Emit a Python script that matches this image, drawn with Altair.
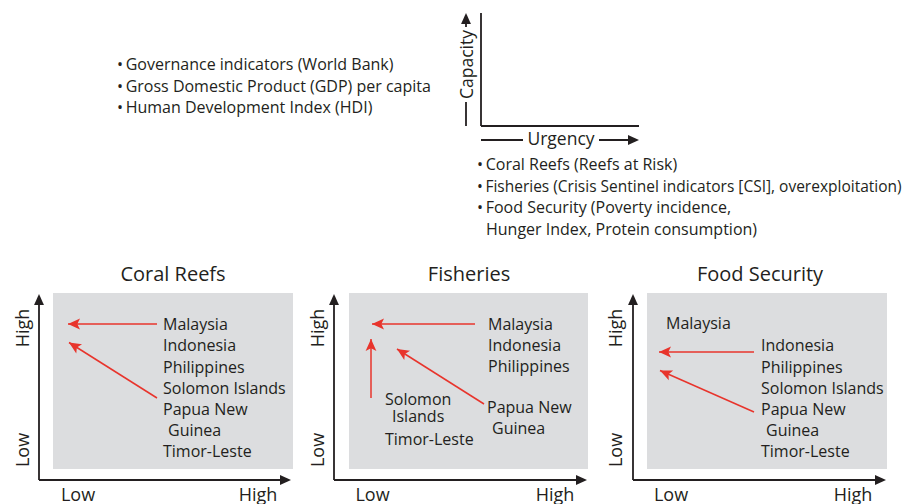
import altair as alt
import pandas as pd
import math

FONT = "Open Sans"
INK = "#231f20"
RED = "#e8342c"
GRAY = "#dcdddf"

# ---- top bullets ----
capacity_indicators = ["Governance indicators (World Bank)",
                       "Gross Domestic Product (GDP) per capita",
                       "Human Development Index (HDI)"]
cap_ind_x = 117
cap_ind_y = [70, 91.5, 113]

urgency_indicators = ["Coral Reefs (Reefs at Risk)",
                      "Fisheries (Crisis Sentinel indicators [CSI], overexploitation)",
                      "Food Security (Poverty incidence,"]
urgency_sizes = [16, 15.5, 16]
urgency_cont = "Hunger Index, Protein consumption)"
urg_ind_x = 477
urg_ind_y = [170, 191.5, 213, 234.5]

# ---- key diagram ----
key_origin = (481, 126)
key_top = 13
key_right = 639

# ---- panels ----
panel_titles = ["Coral Reefs", "Fisheries", "Food Security"]
title_x = [173, 469, 760]
title_y = 281
axis_x = [39, 334, 633]
axis_y = 480
axis_tip_y = 294
axis_tip_x = [291, 587, 886]
box_x0 = [53, 349, 647]
box_x1 = [293, 588, 887]
box_y0, box_y1 = 293, 469
low_x = [78, 372.5, 671]
high_x = [258, 555, 853]
xlab_y = 501
ylab_x = [28.5, 323.5, 622]
ylab_high_y = 328
ylab_low_y = 450

coral_names = ["Malaysia", "Indonesia", "Philippines", "Solomon Islands",
               "Papua New", "Guinea", "Timor-Leste"]
coral_x = [163, 163, 163, 163, 163, 168, 163]
coral_y = [330, 351, 372.5, 394, 415, 436, 457]

fish_names = ["Malaysia", "Indonesia", "Philippines", "Solomon", "Islands",
              "Timor-Leste", "Papua New", "Guinea"]
fish_x = [488, 488, 488, 385, 392, 385, 487, 492]
fish_y = [330, 351, 372, 405, 422, 445, 413, 434]

food_names = ["Malaysia", "Indonesia", "Philippines", "Solomon Islands",
              "Papua New", "Guinea", "Timor-Leste"]
food_x = [666, 761, 761, 761, 761, 766, 761]
food_y = [329, 351, 372.5, 394, 415, 436, 457]

# red arrows: start -> tip
arrow_from_x = [157, 157, 475, 371, 484, 754, 754]
arrow_from_y = [324, 398, 324, 398, 404, 352, 412]
arrow_to_x = [68, 69, 372, 371, 397, 659, 660]
arrow_to_y = [324, 342.5, 324, 339, 349, 352, 370.5]

# ---------------- build tables ----------------
def ang(x0, y0, x1, y1):
    a = math.degrees(math.atan2(x1 - x0, -(y1 - y0)))
    return a % 360

boxes = pd.DataFrame({"x": box_x0, "x2": box_x1,
                      "y": [box_y0] * 3, "y2": [box_y1] * 3})

black_segs = []
black_heads = []
for i in range(3):
    black_segs.append((axis_x[i], axis_y, axis_x[i], axis_tip_y + 6))
    black_segs.append((axis_x[i], axis_y, axis_tip_x[i] - 6, axis_y))
    black_heads.append((axis_x[i], axis_tip_y, 0))
    black_heads.append((axis_tip_x[i], axis_y, 90))
ox, oy = key_origin
black_segs += [(ox, key_top, ox, oy), (ox, oy, key_right, oy),
               (ox, 140, 523, 140), (599, 140, key_right - 6, 140),
               (466, 126, 466, 102), (466, 27, 466, key_top + 6)]
black_heads += [(key_right, 140, 90), (466, key_top, 0)]

bseg = pd.DataFrame(black_segs, columns=["x", "y", "x2", "y2"])
bhead = pd.DataFrame(black_heads, columns=["x", "y", "angle"])

rseg = pd.DataFrame({"x": arrow_from_x, "y": arrow_from_y,
                     "x2": arrow_to_x, "y2": arrow_to_y})
rhead = pd.DataFrame({"x": arrow_to_x, "y": arrow_to_y,
                      "angle": [ang(a, b, c, d) for a, b, c, d in
                                zip(arrow_from_x, arrow_from_y, arrow_to_x, arrow_to_y)]})

left_rows = []
for t, y in zip(capacity_indicators, cap_ind_y):
    left_rows.append(("\u2022\u2009" + t, cap_ind_x, y, 16))
for t, y, s in zip(urgency_indicators, urg_ind_y[:3], urgency_sizes):
    left_rows.append(("\u2022\u2009" + t, urg_ind_x, y, s))
left_rows.append((urgency_cont, urg_ind_x + 9, urg_ind_y[3], 16))
for names, xs_, ys_ in [(coral_names, coral_x, coral_y),
                        (fish_names, fish_x, fish_y),
                        (food_names, food_x, food_y)]:
    for t, x, y in zip(names, xs_, ys_):
        left_rows.append((t, x, y, 16))
left = pd.DataFrame(left_rows, columns=["text", "x", "y", "size"])

center_rows = []
for i in range(3):
    center_rows.append((panel_titles[i], title_x[i], title_y, 20, 0))
    center_rows.append(("Low", low_x[i], xlab_y, 18, 0))
    center_rows.append(("High", high_x[i], xlab_y, 18, 0))
    center_rows.append(("High", ylab_x[i], ylab_high_y, 18, 270))
    center_rows.append(("Low", ylab_x[i], ylab_low_y, 18, 270))
center_rows.append(("Urgency", 561, 144.5, 17.5, 0))
center_rows.append(("Capacity", 472.5, 64.5, 17.5, 270))
center = pd.DataFrame(center_rows, columns=["text", "x", "y", "size", "angle"])

xs = alt.Scale(domain=[8, 911], nice=False, zero=False)
ys = alt.Scale(domain=[8, 504], nice=False, zero=False, reverse=True)
X = lambda f="x": alt.X(f + ":Q", scale=xs, axis=None)
Y = lambda f="y": alt.Y(f + ":Q", scale=ys, axis=None)

rect = alt.Chart(boxes).mark_rect(color=GRAY).encode(
    x=X(), x2="x2:Q", y=Y(), y2="y2:Q")

brule = alt.Chart(bseg).mark_rule(color=INK, strokeWidth=1.8).encode(
    x=X(), x2="x2:Q", y=Y(), y2="y2:Q")
rrule = alt.Chart(rseg).mark_rule(color=RED, strokeWidth=1.5).encode(
    x=X(), x2="x2:Q", y=Y(), y2="y2:Q")

bpt = alt.Chart(bhead).mark_point(
    shape="M0,0L-0.9,2L0.9,2Z", filled=True, size=121, color=INK,
    opacity=1, strokeWidth=0).encode(
    x=X(), y=Y(), angle=alt.Angle("angle:Q", scale=None))
rpt = alt.Chart(rhead).mark_point(
    shape="M0,0L-0.9,2L0,1.55L0.9,2Z", filled=True, size=144, color=RED,
    opacity=1, strokeWidth=0).encode(
    x=X(), y=Y(), angle=alt.Angle("angle:Q", scale=None))

ltext = alt.Chart(left).mark_text(
    align="left", baseline="alphabetic", font=FONT, color=INK).encode(
    x=X(), y=Y(), text="text:N", size=alt.Size("size:Q", scale=None))
ctext = alt.Chart(center).mark_text(
    align="center", baseline="alphabetic", font=FONT, color=INK).encode(
    x=X(), y=Y(), text="text:N",
    size=alt.Size("size:Q", scale=None),
    angle=alt.Angle("angle:Q", scale=None))

chart = alt.layer(rect, brule, rrule, bpt, rpt, ltext, ctext).properties(
    width=903, height=496, padding=0,
    autosize=alt.AutoSizeParams(type="none"),
).configure_view(strokeWidth=0)

chart.save("out.html", embed_options={"renderer": "svg", "actions": False})
